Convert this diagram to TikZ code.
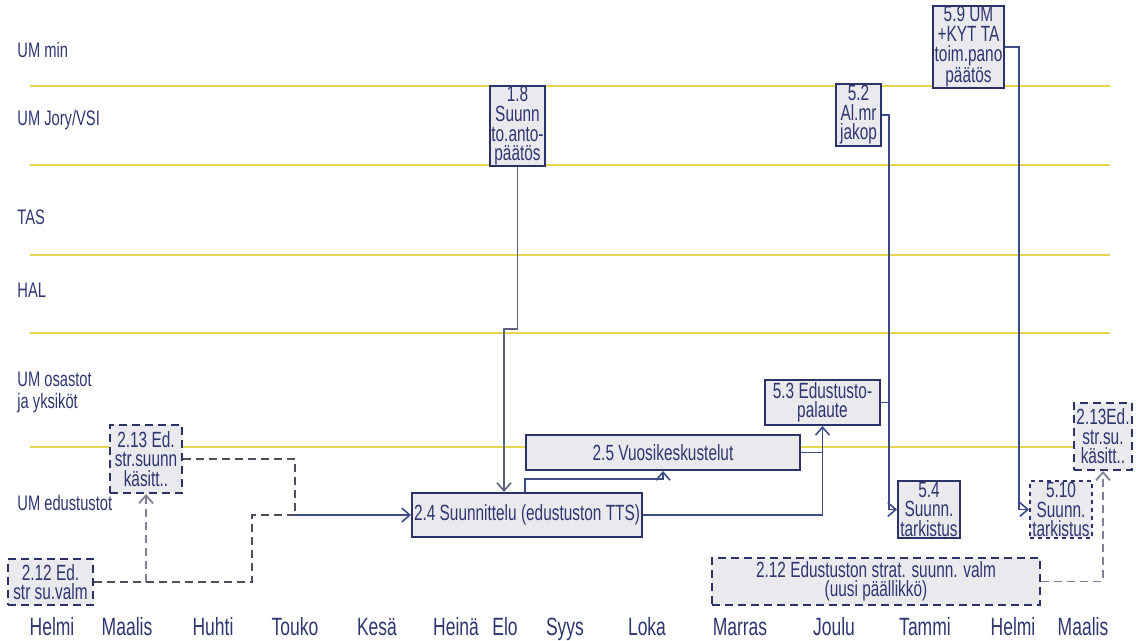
\documentclass[tikz,border=0pt]{standalone}
\usepackage{fontspec}
\setmainfont{Liberation Sans}[FakeStretch=0.7]
\usetikzlibrary{arrows.meta, positioning, calc}

\definecolor{laneline}{HTML}{E8D44D}
\definecolor{boxfill}{HTML}{EAEAEE}
\definecolor{boxline}{HTML}{2A3266}
\definecolor{txt}{HTML}{2E3670}
\definecolor{flow}{HTML}{3C4A85}
\definecolor{flowgray}{HTML}{5E6278}
\definecolor{dashgray}{HTML}{4E4E5E}

\begin{document}
\begin{tikzpicture}[x=0.5pt, y=-0.5pt,
  lane/.style={anchor=west, inner sep=0pt, text=txt, align=left, font=\fontsize{10.5pt}{11pt}\selectfont},
  month/.style={anchor=base, text=txt, font=\fontsize{12.5pt}{13pt}\selectfont},
  taskbox/.style={draw=boxline, fill=boxfill, line width=1pt, inner sep=0.5pt,
    align=center, text=txt, font=\fontsize{11pt}{9.8pt}\selectfont},
  planbox/.style={taskbox, dash pattern=on 4pt off 2.5pt},
  checkbox/.style={taskbox, dash pattern=on 2pt off 2pt},
  conn/.style={draw=flow, line width=0.8pt},
  connlight/.style={draw=flowgray, line width=0.8pt},
  dconn/.style={draw=dashgray, line width=0.9pt, dash pattern=on 4pt off 2.5pt},
  dconnlight/.style={dconn, draw=flowgray!80},
  tip/.style={-{Straight Barb[length=4pt, width=7pt]}}
]
\useasboundingbox (0,0) rectangle (1136,641);

% swimlane separators
\foreach \y in {86,165,255,333}
  \draw[laneline, line width=1pt] (30,\y) -- (1110,\y);
\draw[laneline, line width=1pt] (30,447) -- (1074,447);

% lane names
\node[lane] (lmin) at (17,50) {UM min};
\node[lane] (ljory) at (17,120) {UM Jory/VSI};
\node[lane] (ltas) at (17,217) {TAS};
\node[lane] (lhal) at (17,290) {HAL};
\node[lane] (losa) at (17,392) {UM osastot\\ja yksiköt};
\node[lane] (ledu) at (17,503) {UM edustustot};

% months
\foreach \m/\x in {Helmi/52, Maalis/127, Huhti/213, Touko/295, Kesä/377,
    Heinä/456, Elo/505, Syys/565, Loka/647, Marras/740, Joulu/834,
    Tammi/925, Helmi/1013, Maalis/1083}
  \node[month] (m\x) at (\x,635) {\m};

% tasks
\node[taskbox, minimum width=26.5pt, minimum height=40pt] (b18) at (517.5,126)
  {1.8\\Suunn\\to.anto-\\päätös};
\node[taskbox, minimum width=22.5pt, minimum height=28pt] (b52) at (858.5,115)
  {5.2\\Al.mr\\jakop};
\node[taskbox, minimum width=35.5pt, minimum height=40pt] (b59) at (968.5,47)
  {5.9 UM\\+KYT TA\\toim.pano\\päätös};
\node[taskbox, minimum width=57.5pt, minimum height=22.5pt] (b53) at (822.5,402.5)
  {5.3 Edustusto-\\palaute};
\node[taskbox, minimum width=137pt, minimum height=17.5pt] (b25) at (663,452.5)
  {2.5 Vuosikeskustelut};
\node[taskbox, minimum width=115pt, minimum height=22pt] (b24) at (527,515)
  {2.4 Suunnittelu (edustuston TTS)};
\node[taskbox, minimum width=31pt, minimum height=27.5pt] (b54) at (929,509.5)
  {5.4\\Suunn.\\tarkistus};
\node[checkbox, minimum width=31pt, minimum height=27.5pt] (b510) at (1061,509.5)
  {5.10\\Suunn.\\tarkistus};
\node[planbox, minimum width=36pt, minimum height=34pt] (b213a) at (146,459)
  {2.13 Ed.\\str.suunn\\käsitt..};
\node[planbox, minimum width=42.5pt, minimum height=23pt] (b212a) at (50.5,582)
  {2.12 Ed.\\str su.valm};
\node[planbox, minimum width=29pt, minimum height=33.5pt] (b213b) at (1103,436.5)
  {2.13Ed.\\str.su.\\käsitt..};
\node[planbox, minimum width=164pt, minimum height=23.5pt] (b212b) at (876,581.5)
  {2.12 Edustuston strat. suunn. valm\\(uusi päällikkö)};

% flows
\coordinate (jog18) at (504,329);
\coordinate (merge) at (295,515);
\coordinate (v52) at (889,115);

\draw[connlight, tip] (b18.south) |- (jog18) -- (jog18 |- b24.north);
\draw[dconnlight, tip] (b212a.east) -| (b213a.south);
\draw[dconn] (b212a.east) -| (252,515) -- (merge);
\draw[dconn] (b213a.east) -| (merge);
\draw[conn, tip] (merge) -- (b24.west);
\draw[conn, tip] (b24.north -| b25.west) -- ++(0,-13) -| (b25.south);
\draw[conn, tip] (b24.east) -| (b53.south);
\draw[conn] (b25.east) -- (b25.east -| b53.south);
\draw[conn, tip] (b52.east) -- (v52) |- (b54.west);
\draw[conn] (b53.east) -- (b53.east -| v52);
\draw[conn, tip] (b59.east) -- ++(14,0) |- (b510.west);
\draw[dconnlight, tip] (b212b.east) -| (b213b.south);
\end{tikzpicture}
\end{document}
